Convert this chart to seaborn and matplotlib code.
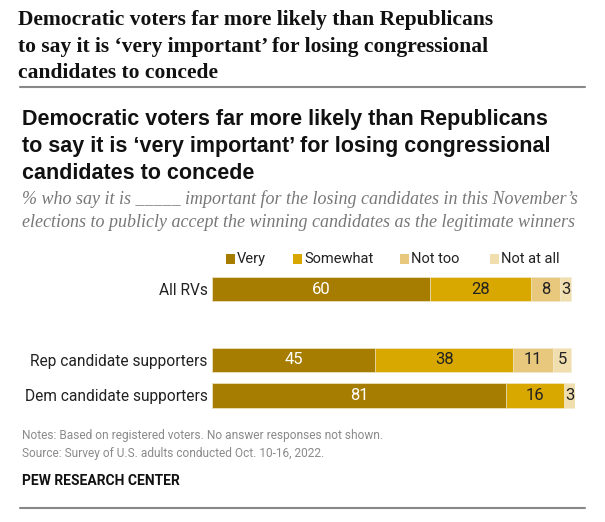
import matplotlib
matplotlib.use("Agg")
import matplotlib.pyplot as plt
import seaborn as sns
import pandas as pd
import numpy as np
from matplotlib.patches import Rectangle
from matplotlib.lines import Line2D
from matplotlib import font_manager

groups = ["All RVs", "Rep candidate supporters", "Dem candidate supporters"]
responses = ["Very", "Somewhat", "Not too", "Not at all"]
very = [60, 45, 81]
somewhat = [28, 38, 16]
not_too = [8, 11, 0]
not_at_all = [3, 5, 3]
colors = ["#A67D00", "#D9A800", "#E8C87C", "#F1DEAE"]
label_colors = ["white", "#222222", "#222222", "#222222"]

title = ("Democratic voters far more likely than Republicans\n"
         "to say it is \u2018very important\u2019 for losing congressional\n"
         "candidates to concede")
subtitle = ("% who say it is _____ important for the losing candidates in this November\u2019s\n"
            "elections to publicly accept the winning candidates as the legitimate winners")
notes = ("Notes: Based on registered voters. No answer responses not shown.\n"
         "Source: Survey of U.S. adults conducted Oct. 10-16, 2022.")
credit = "PEW RESEARCH CENTER"

names = {f.name for f in font_manager.fontManager.ttflist}
narrow = "Liberation Sans Narrow" if "Liberation Sans Narrow" in names else "Roboto"

sns.set_theme(style="white")
plt.rcParams["font.family"] = [narrow, "DejaVu Sans"]

W, H = 605, 522
fig = plt.figure(figsize=(W / 100, H / 100), dpi=100)
fig.patch.set_facecolor("white")

def fx(x):
    return x / W

def fy(y):
    return 1 - y / H

# Axes placement
left_px, width_px = 212, 363
top_px, bottom_px = 271.25, 413.25
ax = fig.add_axes([fx(left_px), fy(bottom_px), width_px / W, (bottom_px - top_px) / H])

order = ["All RVs", " ", "Rep candidate supporters", "Dem candidate supporters"]
series = [very, somewhat, not_too, not_at_all]
cum = np.zeros(len(groups))
cums = []
for s in series:
    cum = cum + np.array(s)
    cums.append(cum.copy())

# draw from total down so earlier segments overlay
for i in reversed(range(len(series))):
    d = pd.DataFrame({"group": groups, "value": cums[i]})
    sns.barplot(data=d, x="value", y="group", order=order, color=colors[i],
                width=0.68, ax=ax, saturation=1, edgecolor="#f4ecd8", linewidth=0.5)

ax.set_xlim(0, 100)
ax.set_ylim(3.5, -0.5)
ax.set_xlabel("")
ax.set_ylabel("")
ax.set_xticks([])
for sp in ax.spines.values():
    sp.set_visible(False)
ax.tick_params(axis="y", length=0, pad=3, labelsize=11.2, labelcolor="#222222")

ypos = {g: order.index(g) for g in groups}
for i, s in enumerate(series):
    starts = cums[i] - np.array(s)
    for j, g in enumerate(groups):
        v = s[j]
        if v <= 0:
            continue
        ax.text(starts[j] + v / 2, ypos[g], str(v), ha="center", va="center",
                fontsize=12, color=label_colors[i])

# Legend
leg_sq = [226, 293, 400, 490]
for i, r in enumerate(responses):
    fig.add_artist(Rectangle((fx(leg_sq[i]), fy(263.5)), 9 / W, 9 / H,
                             transform=fig.transFigure, color=colors[i], lw=0))
    fig.text(fx(leg_sq[i] + 11), fy(259), r, ha="left", va="center",
             fontsize=10.5, color="#222222")

# Titles
fig.text(fx(18), fy(10), title, ha="left", va="top", fontsize=15.5,
         family=["Liberation Serif", "DejaVu Serif"], weight="bold",
         color="#111111", linespacing=1.45)
fig.add_artist(Line2D([fx(20), fx(585)], [fy(87), fy(87)], color="#888888", lw=1.5,
                      transform=fig.transFigure))
fig.text(fx(22), fy(109), title, ha="left", va="top", fontsize=15.5,
         family=["Liberation Sans", "DejaVu Sans"], weight="bold",
         color="#111111", linespacing=1.38)
fig.text(fx(22), fy(190), subtitle, ha="left", va="top", fontsize=13,
         family=["Liberation Serif", "DejaVu Serif"], style="italic",
         color="#777777", linespacing=1.48)

fig.text(fx(22), fy(429), notes, ha="left", va="top", fontsize=8.6,
         color="#8a8a8a", linespacing=1.5)
fig.text(fx(22), fy(474), credit, ha="left", va="top", fontsize=10,
         weight="bold", color="#111111")
fig.add_artist(Line2D([fx(20), fx(585)], [fy(508), fy(508)], color="#888888", lw=1.5,
                      transform=fig.transFigure))

fig.savefig("out.png", dpi=100, facecolor="white")
